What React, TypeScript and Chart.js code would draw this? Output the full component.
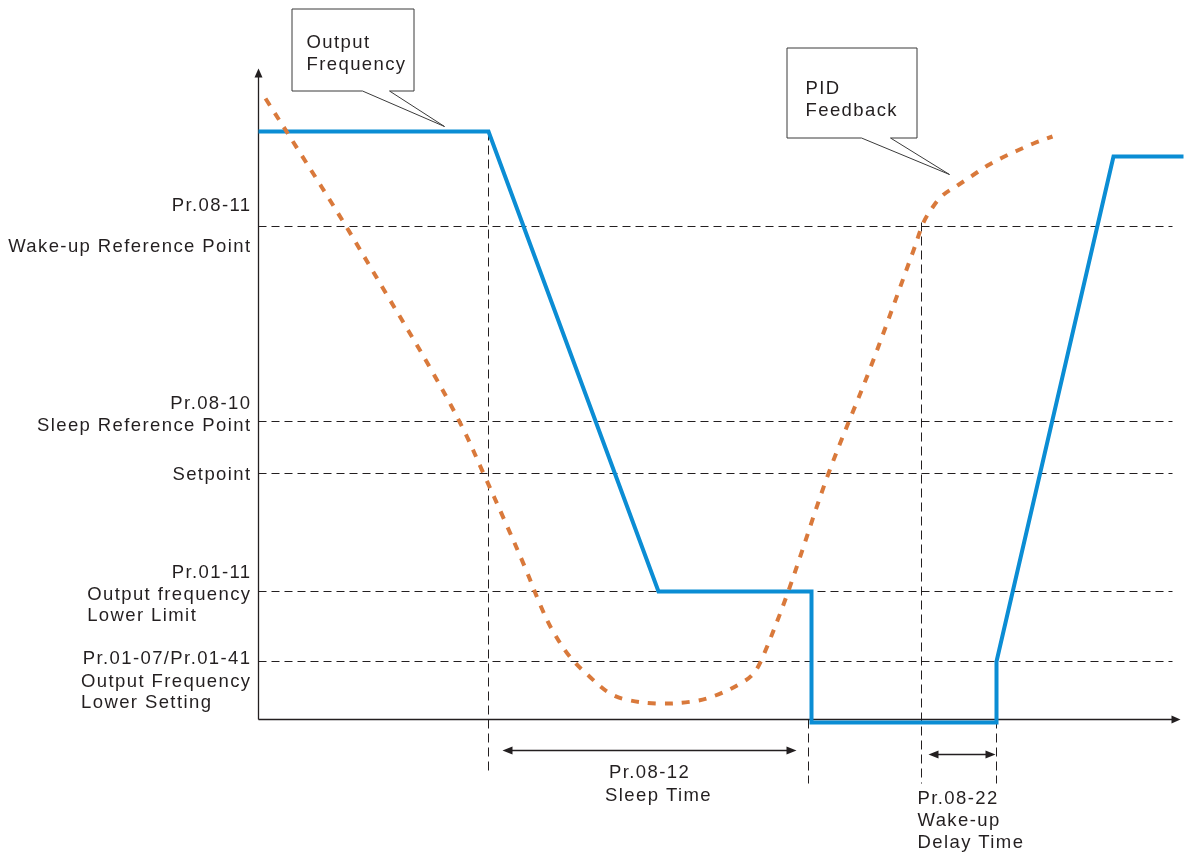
import React, { useEffect, useRef } from 'react';
import { Chart, registerables } from 'chart.js';

Chart.register(...registerables);

// ---- Data (time units on x, signal units on y; origin at the axes' corner) ----
const outputFreqX = [0, 230, 400, 553, 553, 738, 738, 855, 925];
const outputFreqY = [588, 588, 128, 128, -3, -3, 58, 563, 563];

const pidFeedbackX = [7, 42, 84, 127, 172, 204, 225, 247, 267, 282, 294, 312, 332, 350, 367, 400, 434, 457, 482, 495, 504, 529, 570, 612, 655, 665, 674, 684, 699, 714, 729, 744, 759, 775, 794];
const pidFeedbackY = [621, 566, 499, 427, 351, 292, 246, 197, 151, 114, 89, 62, 42, 27, 20, 16, 18, 24, 36, 46, 62, 126, 246, 352, 469, 497, 512, 524, 534, 544, 554, 562, 569, 576, 583];

const levelLabels = [
  ['Pr.08-11', 'Wake-up Reference Point'],
  ['Pr.08-10', 'Sleep Reference Point'],
  ['Setpoint'],
  ['Pr.01-11', 'Output frequency', 'Lower Limit'],
  ['Pr.01-07/Pr.01-41', 'Output Frequency', 'Lower Setting'],
];
const levelValues = [493, 298, 246, 128, 58];
const levelEnd = 914;

const guideX = [230, 550, 663, 738];
const guideTop = [588, 0, 497, 0];
const guideBottom = [-55, -64, -64, -64];

const sleepTimeSpan = [244, 538];
const sleepTimeLevel = -31;
const sleepTimeLabel = ['Pr.08-12', 'Sleep Time'];
const wakeDelaySpan = [670, 737];
const wakeDelayLevel = -35;
const wakeDelayLabel = ['Pr.08-22', 'Wake-up', 'Delay Time'];

const axisXEnd = 922;
const axisYEnd = 651;

const calloutOutput = ['Output', 'Frequency'];
const calloutOutputTip = [186, 593];
const calloutPid = ['PID', 'Feedback'];
const calloutPidTip = [691, 545];

// ---- Styles ----
const INK = '#231f20';
const BLUE = '#0b8dd4';
const ORANGE = '#d9793b';
const FONT = '18.5px "Liberation Sans", Arial, Helvetica, sans-serif';

const pts = (xs: number[], ys: number[]) => xs.map((x, i) => ({ x, y: ys[i] }));

const drawingPlugin = {
  id: 'diagram',
  afterDatasetsDraw(chart: any) {
    const ctx: CanvasRenderingContext2D = chart.ctx;
    const xs = chart.scales.x;
    const ys = chart.scales.y;
    const px = (v: number) => xs.getPixelForValue(v);
    const py = (v: number) => ys.getPixelForValue(v);

    ctx.save();
    ctx.fillStyle = INK;
    ctx.strokeStyle = INK;

    const tri = (tx: number, ty: number, dx: number, dy: number, len = 8, hw = 3.8) => {
      const bx = tx - dx * len;
      const by = ty - dy * len;
      ctx.beginPath();
      ctx.moveTo(tx, ty);
      ctx.lineTo(bx - dy * hw, by + dx * hw);
      ctx.lineTo(bx + dy * hw, by - dx * hw);
      ctx.closePath();
      ctx.fill();
    };

    // Axis arrowheads
    tri(px(0), py(axisYEnd), 0, -1, 9, 4);
    tri(px(axisXEnd), py(0), 1, 0, 9, 4);

    // Dimension arrows
    const dim = (span: number[], level: number) => {
      const y = py(level);
      const x1 = px(span[0]);
      const x2 = px(span[1]);
      ctx.lineWidth = 1.3;
      ctx.beginPath();
      ctx.moveTo(x1 + 4, y);
      ctx.lineTo(x2 - 4, y);
      ctx.stroke();
      tri(x1, y, -1, 0, 10, 4);
      tri(x2, y, 1, 0, 10, 4);
    };
    dim(sleepTimeSpan, sleepTimeLevel);
    dim(wakeDelaySpan, wakeDelayLevel);

    // Text
    ctx.font = FONT;
    (ctx as any).letterSpacing = '1.4px';
    ctx.textBaseline = 'alphabetic';

    const labelRight = px(-7);
    const offsets = [
      [-16, 25],
      [-13, 9],
      [6],
      [-14, 8, 29],
      [2, 25, 46],
    ];
    levelLabels.forEach((lines, i) => {
      const base = py(levelValues[i]);
      let leftOfSecond = 0;
      lines.forEach((t, j) => {
        const y = base + offsets[i][j];
        if (j < 2) {
          ctx.textAlign = 'right';
          ctx.fillText(t, labelRight, y);
          if (j === 1) leftOfSecond = labelRight - ctx.measureText(t).width;
        } else {
          ctx.textAlign = 'left';
          ctx.fillText(t, leftOfSecond, y);
        }
      });
    });

    // Sleep time label
    ctx.textAlign = 'center';
    const sMid = (px(sleepTimeSpan[0]) + px(sleepTimeSpan[1])) / 2;
    ctx.fillText(sleepTimeLabel[0], sMid, py(sleepTimeLevel) + 27);
    ctx.fillText(sleepTimeLabel[1], sMid + 9, py(sleepTimeLevel) + 50);

    // Wake-up delay label
    ctx.textAlign = 'left';
    const wLeft = px(guideX[2]) - 4;
    wakeDelayLabel.forEach((t, j) => {
      ctx.fillText(t, wLeft, py(wakeDelayLevel) + 49 + j * 22);
    });

    // Callouts
    const callout = (tip: number[], lines: string[], box: number[], base: number[], textDx: number, textDy: number) => {
      const tx = px(tip[0]);
      const ty = py(tip[1]);
      const l = tx + box[0], r = tx + box[1], t = ty + box[2], b = ty + box[3];
      ctx.beginPath();
      ctx.moveTo(l + 0.5, t + 0.5);
      ctx.lineTo(r + 0.5, t + 0.5);
      ctx.lineTo(r + 0.5, b + 0.5);
      ctx.lineTo(tx + base[1], b + 0.5);
      ctx.lineTo(tx, ty);
      ctx.lineTo(tx + base[0], b + 0.5);
      ctx.lineTo(l + 0.5, b + 0.5);
      ctx.closePath();
      ctx.fillStyle = '#ffffff';
      ctx.fill();
      ctx.lineWidth = 1;
      ctx.strokeStyle = '#3a3a3a';
      ctx.stroke();
      ctx.fillStyle = INK;
      ctx.textAlign = 'left';
      lines.forEach((s, j) => ctx.fillText(s, l + textDx, t + textDy + j * 22.5));
    };
    callout(calloutOutputTip, calloutOutput, [-153, -31, -118, -36], [-82, -55], 15, 39);
    callout(calloutPidTip, calloutPid, [-163, -33, -127, -37], [-88, -59], 19, 46);

    ctx.restore();
  },
};

export default function App() {
  const ref = useRef<HTMLCanvasElement | null>(null);

  useEffect(() => {
    if (!ref.current) return;
    const dashed = { borderColor: INK, borderWidth: 1, borderDash: [8, 5], pointRadius: 0, showLine: true, fill: false, order: 5 };

    const datasets: any[] = [];
    datasets.push({
      label: 'PID Feedback',
      data: pts(pidFeedbackX, pidFeedbackY),
      borderColor: ORANGE,
      borderWidth: 4,
      borderDash: [8, 9],
      borderCapStyle: 'butt',
      tension: 0.35,
      pointRadius: 0,
      showLine: true,
      order: 0,
    });
    datasets.push({
      label: 'Output Frequency',
      data: pts(outputFreqX, outputFreqY),
      borderColor: BLUE,
      borderWidth: 4,
      borderJoinStyle: 'miter',
      pointRadius: 0,
      showLine: true,
      tension: 0,
      order: 1,
    });
    levelValues.forEach((v) => {
      datasets.push({ ...dashed, data: [{ x: 0, y: v }, { x: levelEnd, y: v }] });
    });
    guideX.forEach((x, i) => {
      datasets.push({ ...dashed, borderDash: [9, 5], data: [{ x, y: guideTop[i] }, { x, y: guideBottom[i] }] });
    });
    // axes
    datasets.push({ borderColor: INK, borderWidth: 1.3, pointRadius: 0, showLine: true, order: 6, data: [{ x: 0, y: 0 }, { x: 0, y: axisYEnd - 6 }] });
    datasets.push({ borderColor: INK, borderWidth: 1.3, pointRadius: 0, showLine: true, order: 6, data: [{ x: 0, y: 0 }, { x: axisXEnd - 6, y: 0 }] });

    const chart = new Chart(ref.current, {
      type: 'scatter',
      data: { datasets },
      options: {
        animation: false,
        responsive: false,
        maintainAspectRatio: false,
        events: [],
        layout: { padding: 0 },
        plugins: { legend: { display: false }, tooltip: { enabled: false }, title: { display: false } },
        scales: {
          x: { type: 'linear', display: false, min: -258.5, max: 928.5 },
          y: { type: 'linear', display: false, min: -134.5, max: 719.5 },
        },
      },
      plugins: [drawingPlugin],
    } as any);
    return () => chart.destroy();
  }, []);

  return (
    <div style={{ position: 'fixed', left: 0, top: 0, width: 1187, height: 854, background: '#fff' }}>
      <canvas ref={ref} width={1187} height={854} style={{ display: 'block', width: 1187, height: 854 }} />
    </div>
  );
}
